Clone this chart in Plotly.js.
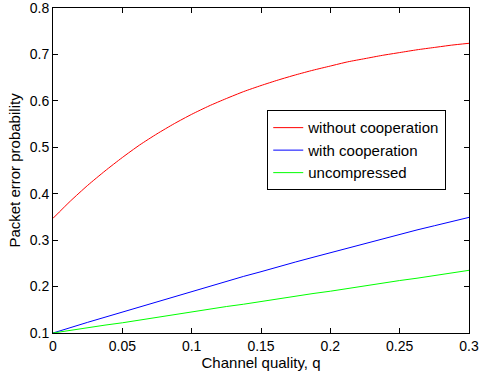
<!DOCTYPE html>
<html>
<head>
<meta charset="utf-8">
<script src="https://cdn.plot.ly/plotly-3.0.1.min.js"></script>
<style>html,body{margin:0;padding:0;background:#fff;}#chart{width:479px;height:382px;}</style>
</head>
<body>
<div id="chart"></div>
<script>
var q = [0, 0.0125, 0.025, 0.0375, 0.05, 0.0625, 0.075, 0.0875, 0.1, 0.1125, 0.125, 0.1375, 0.15,
         0.1625, 0.175, 0.1875, 0.2, 0.2125, 0.225, 0.2375, 0.25, 0.2625, 0.275, 0.2875, 0.3];
var withoutCoop = [0.347, 0.384, 0.418, 0.449, 0.478, 0.505, 0.529, 0.551, 0.571, 0.589, 0.605, 0.620, 0.633,
                   0.645, 0.656, 0.666, 0.675, 0.684, 0.691, 0.698, 0.704, 0.710, 0.715, 0.720, 0.724];
var withCoop = [0.1, 0.112, 0.123, 0.134, 0.145, 0.157, 0.168, 0.179, 0.19, 0.2, 0.211, 0.222, 0.232,
                0.243, 0.253, 0.263, 0.273, 0.283, 0.293, 0.303, 0.312, 0.322, 0.331, 0.340, 0.349];
var uncompressed = [0.1, 0.106, 0.111, 0.117, 0.122, 0.128, 0.134, 0.139, 0.145, 0.151, 0.157, 0.162, 0.168,
                    0.173, 0.179, 0.185, 0.19, 0.196, 0.202, 0.207, 0.213, 0.218, 0.224, 0.229, 0.235];
var seriesNames = ['without cooperation', 'with cooperation', 'uncompressed'];
var xTicks = [0, 0.05, 0.1, 0.15, 0.2, 0.25, 0.3];
var yTicks = [0.1, 0.2, 0.3, 0.4, 0.5, 0.6, 0.7, 0.8];

var font = 'Liberation Sans, Arial, sans-serif';
var traces = [
  {x: q, y: withoutCoop, name: seriesNames[0], mode: 'lines', line: {color: '#ff0000', width: 1, shape: 'spline', smoothing: 0.6}},
  {x: q, y: withCoop, name: seriesNames[1], mode: 'lines', line: {color: '#0000ff', width: 1}},
  {x: q, y: uncompressed, name: seriesNames[2], mode: 'lines', line: {color: '#00ff00', width: 1}}
];
var axisCommon = {
  showgrid: false, zeroline: false, showline: true, linecolor: '#000', linewidth: 1,
  mirror: 'ticks', ticks: 'inside', ticklen: 5, tickcolor: '#000', tickwidth: 1,
  ticklabeloverflow: 'allow',
  tickfont: {family: font, size: 14, color: '#000'}
};
var layout = {
  width: 479, height: 382,
  margin: {l: 53, r: 10, t: 8, b: 49},
  paper_bgcolor: '#fff', plot_bgcolor: '#fff',
  showlegend: true,
  legend: {
    x: 0.515, y: 0.685, xanchor: 'left', yanchor: 'top',
    bordercolor: '#000', borderwidth: 1, bgcolor: '#fff',
    font: {family: font, size: 15, color: '#000'},
    tracegroupgap: 0
  },
  xaxis: Object.assign({}, axisCommon, {
    range: [0, 0.3], tickvals: xTicks, ticktext: xTicks.map(String),
    title: {text: 'Channel quality, q', font: {family: font, size: 15, color: '#000'}, standoff: 2}
  }),
  yaxis: Object.assign({}, axisCommon, {
    range: [0.1, 0.8000001], tickvals: yTicks, ticktext: yTicks.map(String),
    title: {text: 'Packet error probability', font: {family: font, size: 15, color: '#000'}, standoff: 5}
  })
};
Plotly.newPlot('chart', traces, layout, {displayModeBar: false, staticPlot: true});
</script>
</body>
</html>
